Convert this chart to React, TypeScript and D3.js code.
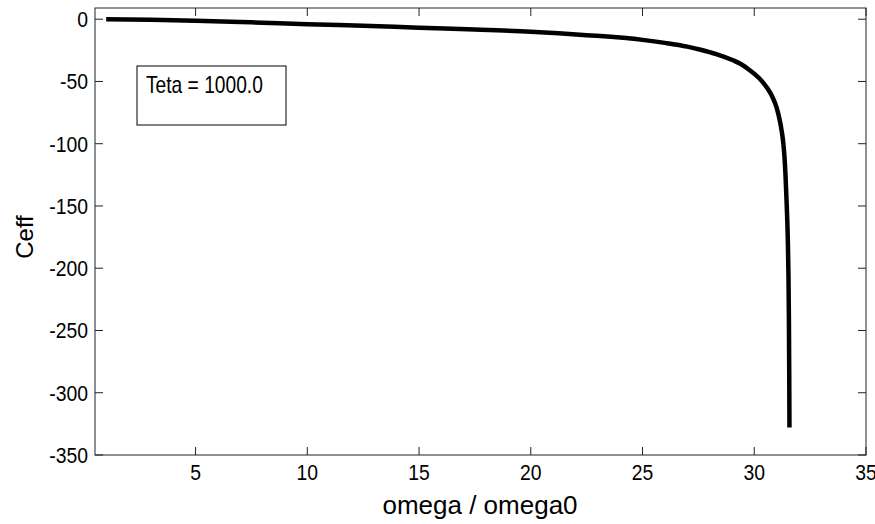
import React, { useEffect, useRef } from "react";
import * as d3 from "d3";

// values
const omega = [1.0, 3, 5, 7.5, 10, 12.5, 15, 17.5, 20, 22.5, 25, 26, 27, 27.6, 28.3, 29.05, 29.4, 29.8, 30.2, 30.57, 30.8, 31.0, 31.15, 31.22, 31.29, 31.35, 31.4, 31.45, 31.5, 31.53, 31.55, 31.565, 31.575];
const ceff = [-0.1, -0.5, -1.2, -2.5, -4, -5.3, -6.8, -8.2, -10, -12.8, -16.6, -19, -22, -24.5, -28, -33, -36, -41, -47, -55, -62, -71, -82, -89, -98, -110, -126, -148, -176, -205, -240, -285, -328];
const xTicks = [5, 10, 15, 20, 25, 30, 35];
const yTicks = [0, -50, -100, -150, -200, -250, -300, -350];
const legendText = "Teta = 1000.0";

const W = 875, H = 524;
const box = { left: 95, right: 866, top: 8, bottom: 455 };

export default function App() {
  const ref = useRef<SVGSVGElement>(null);

  useEffect(() => {
    const svg = d3.select(ref.current);
    svg.selectAll("*").remove();

    const x = d3.scaleLinear().domain([0.5, 35]).range([box.left, box.right]);
    const y = d3.scaleLinear().domain([-350, 9]).range([box.bottom, box.top]);
    const font = "'Liberation Sans', Arial, sans-serif";
    const tickLen = 8;

    const data = omega.map((w, i) => [w, ceff[i]] as [number, number]);

    // curve
    svg.append("path")
      .datum(data)
      .attr("fill", "none")
      .attr("stroke", "#000")
      .attr("stroke-width", 4.5)
      .attr("d", d3.line<[number, number]>()
        .x(d => x(d[0]))
        .y(d => y(d[1]))
        .curve(d3.curveMonotoneX));

    // box
    svg.append("rect")
      .attr("x", box.left).attr("y", box.top)
      .attr("width", box.right - box.left).attr("height", box.bottom - box.top)
      .attr("fill", "none").attr("stroke", "#222").attr("stroke-width", 1);

    // inward ticks on all sides
    const g = svg.append("g").attr("stroke", "#222").attr("stroke-width", 1);
    xTicks.forEach(t => {
      g.append("line").attr("x1", x(t)).attr("x2", x(t)).attr("y1", box.bottom).attr("y2", box.bottom - tickLen);
      g.append("line").attr("x1", x(t)).attr("x2", x(t)).attr("y1", box.top).attr("y2", box.top + tickLen);
    });
    yTicks.forEach(t => {
      g.append("line").attr("y1", y(t)).attr("y2", y(t)).attr("x1", box.left).attr("x2", box.left + tickLen);
      g.append("line").attr("y1", y(t)).attr("y2", y(t)).attr("x1", box.right).attr("x2", box.right - tickLen);
    });

    // tick labels: tall, slightly narrow like the reference
    svg.selectAll(".xl").data(xTicks).enter().append("text")
      .attr("transform", d => `translate(${x(d)},${box.bottom + 25}) scale(0.88,1)`)
      .attr("text-anchor", "middle")
      .attr("font-family", font).attr("font-size", 22)
      .text(d => d);

    svg.selectAll(".yl").data(yTicks).enter().append("text")
      .attr("transform", d => `translate(${box.left - 7},${y(d) + 8}) scale(0.88,1)`)
      .attr("text-anchor", "end")
      .attr("font-family", font).attr("font-size", 22)
      .text(d => d);

    svg.append("text")
      .attr("x", 480).attr("y", 514)
      .attr("text-anchor", "middle")
      .attr("font-family", font).attr("font-size", 26)
      .text("omega / omega0");

    svg.append("text")
      .attr("transform", "translate(33,237) rotate(-90)")
      .attr("text-anchor", "middle")
      .attr("font-family", font).attr("font-size", 24)
      .text("Ceff");

    // legend box
    svg.append("rect")
      .attr("x", 137).attr("y", 66).attr("width", 149).attr("height", 59)
      .attr("fill", "#fff").attr("stroke", "#000").attr("stroke-width", 1);
    svg.append("text")
      .attr("transform", "translate(146,93) scale(0.8,1)")
      .attr("font-family", font).attr("font-size", 24)
      .text(legendText);
  }, []);

  return (
    <svg ref={ref} width={W} height={H}
      style={{ position: "absolute", left: 0, top: 0, background: "#fff" }} />
  );
}
